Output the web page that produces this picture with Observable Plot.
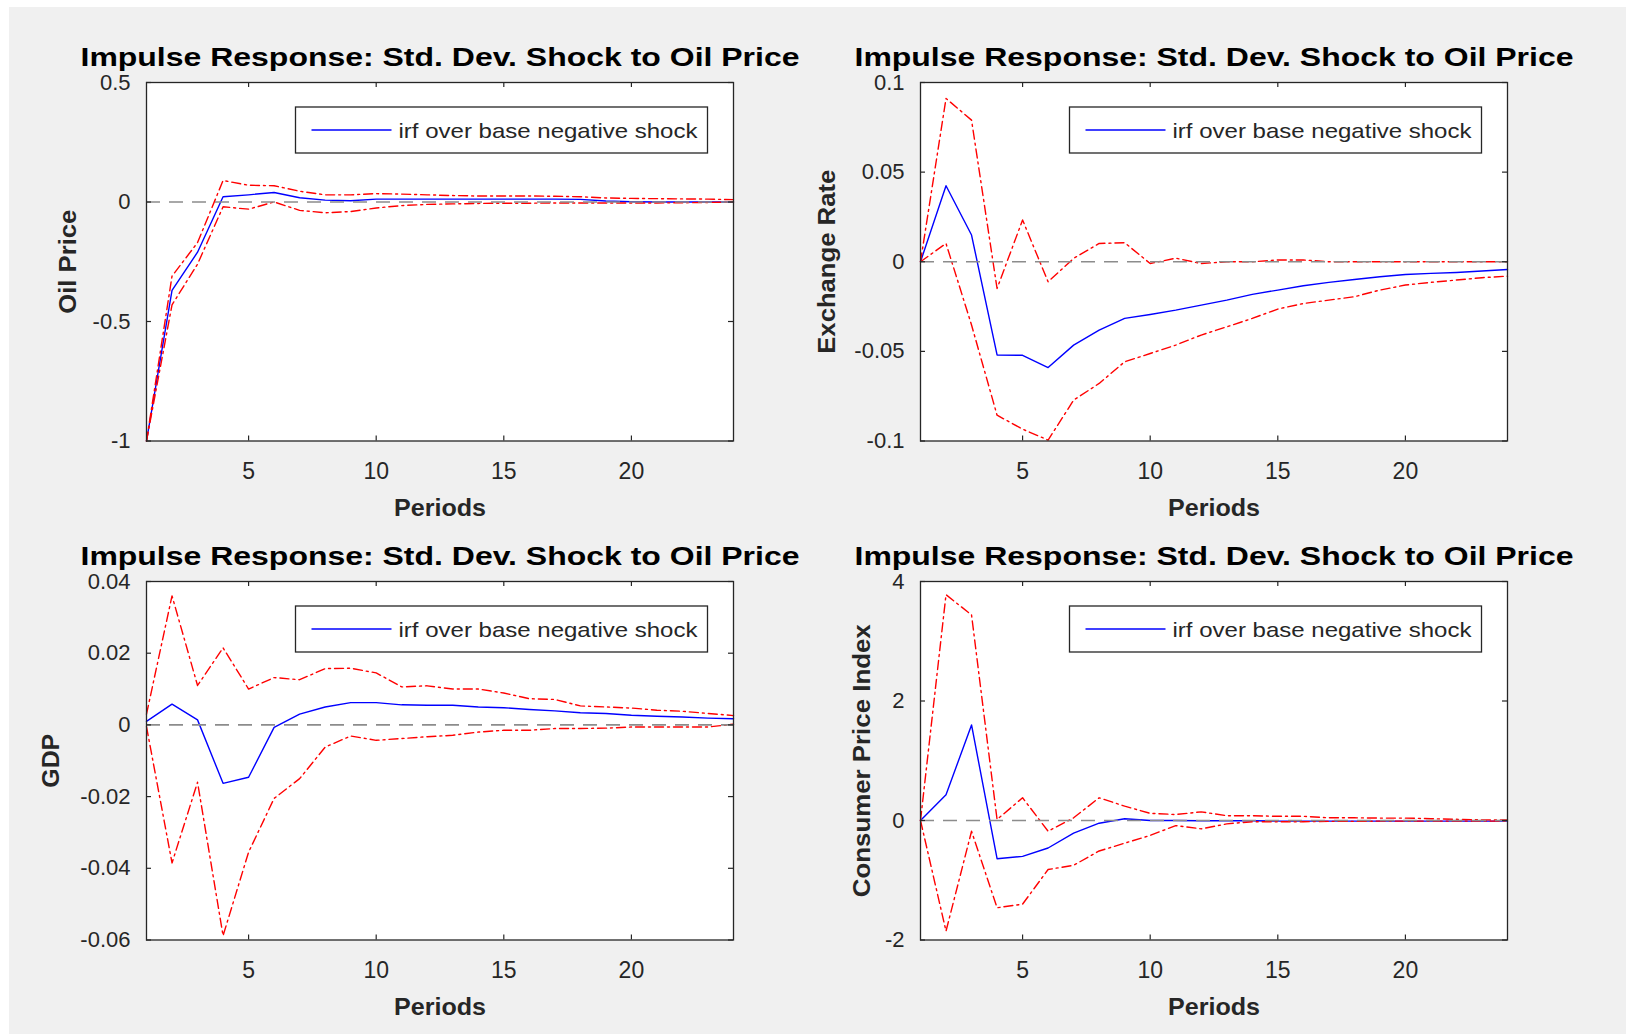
<!DOCTYPE html>
<html><head><meta charset="utf-8">
<script src="https://cdn.jsdelivr.net/npm/d3@7"></script>
<script src="https://cdn.jsdelivr.net/npm/@observablehq/plot@0.6"></script>
<style>
body{margin:0;background:#fff;}
#page{position:relative;width:1626px;height:1034px;overflow:hidden;background:#fff;}
#bg{position:absolute;left:9px;top:7px;right:0;bottom:0;background:#f0f0f0;}
.panel{position:absolute;}
</style></head><body><div id="page"><div id="bg"></div></div>
<script>
const periods = [1,2,3,4,5,6,7,8,9,10,11,12,13,14,15,16,17,18,19,20,21,22,23,24];
const xTicks = [5,10,15,20];
const titleText = "Impulse Response: Std. Dev. Shock to Oil Price";
const legendText = "irf over base negative shock";
const xLabel = "Periods";

const oilIrf = [-1,-0.37,-0.21,0.022,0.03,0.04,0.018,0.008,0.005,0.012,0.012,0.012,0.012,0.012,0.012,0.012,0.012,0.011,0.004,0.001,0,0,0,0];
const oilUp  = [-1,-0.31,-0.17,0.09,0.07,0.068,0.045,0.03,0.03,0.035,0.033,0.03,0.027,0.025,0.025,0.025,0.024,0.022,0.017,0.015,0.014,0.013,0.012,0.01];
const oilLo  = [-1,-0.43,-0.26,-0.02,-0.03,0.0,-0.035,-0.045,-0.04,-0.025,-0.015,-0.01,-0.008,-0.006,-0.005,-0.005,-0.004,-0.004,-0.004,-0.004,-0.004,-0.003,-0.002,0];
const oilTicks = [-1,-0.5,0,0.5];

const exIrf = [0,0.0424,0.0149,-0.052,-0.0522,-0.059,-0.0465,-0.0381,-0.0316,-0.0294,-0.027,-0.0242,-0.0214,-0.0182,-0.0158,-0.0134,-0.0115,-0.0099,-0.0084,-0.0071,-0.0065,-0.006,-0.0052,-0.0043];
const exUp  = [0,0.0911,0.079,-0.0149,0.0233,-0.0112,0.0019,0.0102,0.0106,-0.001,0.002,-0.001,0,0,0.001,0.001,0,0,0,0,0,0,0,0];
const exLo  = [0,0.0102,-0.0353,-0.0856,-0.0934,-0.0995,-0.0772,-0.0679,-0.0558,-0.0512,-0.0465,-0.0409,-0.0363,-0.0316,-0.0264,-0.0233,-0.0214,-0.0195,-0.0158,-0.013,-0.0115,-0.0102,-0.0089,-0.008];
const exTicks = [-0.1,-0.05,0,0.05,0.1];

const gdpIrf = [0.001,0.0058,0.0014,-0.0163,-0.0146,-0.0007,0.003,0.005,0.0062,0.0062,0.0056,0.0055,0.0055,0.005,0.0048,0.0043,0.0039,0.0034,0.0032,0.0027,0.0024,0.0022,0.0019,0.0017];
const gdpUp  = [0.003,0.036,0.011,0.0215,0.0100,0.0132,0.0126,0.0157,0.0158,0.0145,0.0106,0.0109,0.0100,0.0100,0.0089,0.0073,0.0071,0.0053,0.005,0.0047,0.0041,0.0038,0.0032,0.0026];
const gdpLo  = [-0.0005,-0.0385,-0.016,-0.0588,-0.0355,-0.0205,-0.015,-0.0062,-0.0031,-0.0043,-0.0038,-0.0033,-0.0029,-0.002,-0.0015,-0.0015,-0.001,-0.001,-0.0009,-0.0006,-0.0006,-0.0006,-0.0006,0.0002];
const gdpTicks = [-0.06,-0.04,-0.02,0,0.02,0.04];

const cpiIrf = [0,0.43,1.6,-0.64,-0.6,-0.46,-0.21,-0.045,0.03,0,0,-0.005,-0.005,-0.005,-0.01,-0.01,-0.01,-0.01,-0.01,-0.01,-0.01,-0.01,-0.01,-0.01];
const cpiUp  = [0,3.78,3.44,0.017,0.38,-0.18,0.045,0.38,0.24,0.12,0.10,0.145,0.08,0.08,0.07,0.07,0.045,0.045,0.04,0.04,0.03,0.02,0.01,0.01];
const cpiLo  = [0,-1.85,-0.18,-1.46,-1.40,-0.82,-0.75,-0.51,-0.38,-0.25,-0.085,-0.14,-0.056,-0.02,-0.02,-0.02,-0.015,-0.015,-0.01,-0.01,-0.01,-0.01,-0.01,-0.01];
const cpiTicks = [-2,0,2,4];

const panels = [
  {label:"Oil Price", irf:oilIrf, up:oilUp, lo:oilLo, domain:[-1,0.5], ticks:oilTicks, left:146, top:82, off:78, len:104},
  {label:"Exchange Rate", irf:exIrf, up:exUp, lo:exLo, domain:[-0.1,0.1], ticks:exTicks, left:920, top:82, off:93, len:184},
  {label:"GDP", irf:gdpIrf, up:gdpUp, lo:gdpLo, domain:[-0.06,0.04], ticks:gdpTicks, left:146, top:581, off:95, len:54},
  {label:"Consumer Price Index", irf:cpiIrf, up:cpiUp, lo:cpiLo, domain:[-2,4], ticks:cpiTicks, left:920, top:581, off:58, len:273}
];

const ML = 140, MR = 40, MT = 80, MB = 90, IW = 587, IH = 358.5;
const page = document.getElementById("page");
const dark = "#262626";

for (const P of panels) {
  const data = periods.map((p, i) => ({p, irf: P.irf[i], up: P.up[i], lo: P.lo[i]}));
  const chart = Plot.plot({
    width: ML + IW + MR, height: MT + IH + MB,
    marginLeft: ML, marginRight: MR, marginTop: MT, marginBottom: MB,
    x: {domain: [1, 24], axis: null, label: null},
    y: {domain: P.domain, axis: null, label: null},
    style: {background: "transparent", color: dark, fontFamily: "'Liberation Sans', Arial, sans-serif", fontSize: "22px", overflow: "visible"},
    marks: [
      Plot.frame({fill: "white"}),
      Plot.line(data, {x: "p", y: "irf", stroke: "#0000ff", strokeWidth: 1.4}),
      Plot.line(data, {x: "p", y: "up", stroke: "#ff0000", strokeWidth: 1.4, strokeDasharray: "9,4,2,4"}),
      Plot.line(data, {x: "p", y: "lo", stroke: "#ff0000", strokeWidth: 1.4, strokeDasharray: "9,4,2,4"}),
      Plot.ruleY([0], {stroke: "#8c8c8c", strokeWidth: 1.6, strokeDasharray: "14,9"}),
      Plot.ruleX(xTicks, {x: d => d, insetTop: IH - 5, stroke: dark, strokeWidth: 1.2}),
      Plot.ruleX(xTicks, {x: d => d, insetBottom: IH - 5, stroke: dark, strokeWidth: 1.2}),
      Plot.ruleY(P.ticks, {y: d => d, insetLeft: IW - 5, stroke: dark, strokeWidth: 1.2}),
      Plot.ruleY(P.ticks, {y: d => d, insetRight: IW - 5, stroke: dark, strokeWidth: 1.2}),
      Plot.frame({stroke: dark, strokeWidth: 1.3}),
      Plot.axisX({ticks: xTicks, label: null, tickSize: 0, tickPadding: 22, fontSize: 23, tickFormat: d => String(d), fill: dark}),
      Plot.axisY({ticks: P.ticks, label: null, tickSize: 0, tickPadding: 16, fontSize: 22, tickFormat: d => String(d), fill: dark}),
      Plot.text([titleText], {text: d => d, frameAnchor: "top", lineAnchor: "bottom", dy: -16.5, fontSize: 26, fontWeight: "bold", fill: "black"}),
      Plot.text([xLabel], {text: d => d, frameAnchor: "bottom", lineAnchor: "bottom", dy: 75, fontSize: 24, fontWeight: "bold", fill: dark}),
      Plot.text([P.label], {text: d => d, frameAnchor: "left", textAnchor: "middle", lineAnchor: "middle", rotate: -90, dx: -P.off, fontSize: 24, fontWeight: "bold", fill: dark})
    ]
  });
  chart.style.background = "transparent";
  // legend box
  const bw = 412, bh = 46;
  const bx = ML + IW - 25.5 - bw, by = MT + 25;
  const g = d3.select(chart).append("g");
  g.append("rect").attr("x", bx).attr("y", by).attr("width", bw).attr("height", bh)
    .attr("fill", "white").attr("stroke", dark).attr("stroke-width", 1.3);
  g.append("line").attr("x1", bx + 16).attr("x2", bx + 96).attr("y1", by + 23).attr("y2", by + 23)
    .attr("stroke", "#0000ff").attr("stroke-width", 1.6);
  g.append("text").attr("x", bx + 103).attr("y", by + 31).attr("font-size", 21).attr("fill", dark)
    .attr("text-anchor", "start").text(legendText);
  const lengths = {[titleText]: 719, [xLabel]: 92, [P.label]: P.len, [legendText]: 299};
  d3.select(chart).selectAll("text").each(function () {
    const t = this.textContent;
    if (lengths[t] && this.children.length === 0) {
      this.setAttribute("textLength", lengths[t]);
      this.setAttribute("lengthAdjust", "spacingAndGlyphs");
    }
  });
  const div = document.createElement("div");
  div.className = "panel";
  div.style.left = (P.left - ML) + "px";
  div.style.top = (P.top - MT) + "px";
  div.appendChild(chart);
  page.appendChild(div);
}
</script></body></html>
